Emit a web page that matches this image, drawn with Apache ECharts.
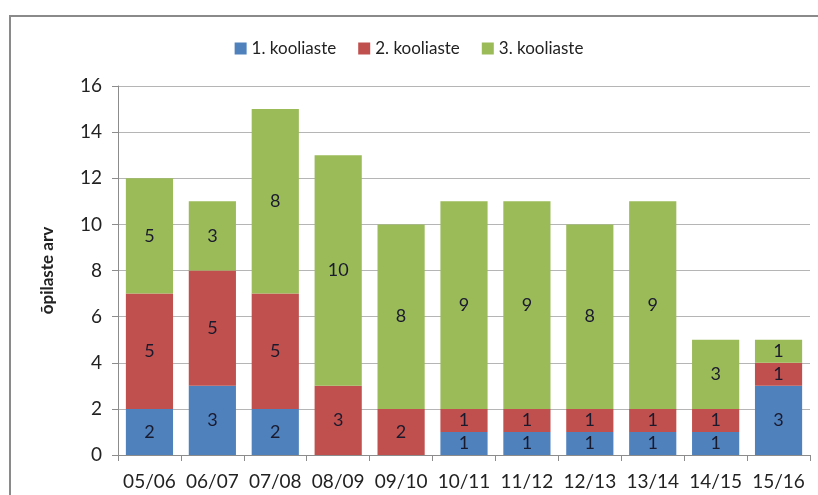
<!DOCTYPE html>
<html>
<head>
<meta charset="utf-8">
<script src="https://cdn.jsdelivr.net/npm/echarts@6/dist/echarts.min.js"></script>
<style>
  html, body { margin: 0; padding: 0; background: #fff; }
  #frame {
    position: absolute; left: 9px; top: 15px; width: 830px; height: 500px;
    border: 2px solid #8a8a8a; box-sizing: border-box;
  }
  #chart { position: absolute; left: 0; top: 0; width: 818px; height: 495px; }
</style>
</head>
<body>
<div id="frame"></div>
<div id="chart"></div>
<script>
// kategooriad ja andmed
var categories = ['05/06', '06/07', '07/08', '08/09', '09/10', '10/11', '11/12', '12/13', '13/14', '14/15', '15/16']
var kooliaste1 = [2, 3, 2, 0, 0, 1, 1, 1, 1, 1, 3]
var kooliaste2 = [5, 5, 5, 3, 2, 1, 1, 1, 1, 1, 1]
var kooliaste3 = [5, 3, 8, 10, 8, 9, 9, 8, 9, 3, 1]
var seriesNames = ['1. kooliaste', '2. kooliaste', '3. kooliaste']
var colors = ['#4F81BD', '#C0504D', '#9BBB59']

var font = 'Lato, "Open Sans", sans-serif'

function makeSeries (name, data, color) {
  return {
    name: name,
    type: 'bar',
    stack: 'total',
    data: data,
    barWidth: '75%',
    itemStyle: { color: color },
    label: {
      show: true,
      position: 'inside',
      color: '#1a1a2e',
      fontSize: 18,
      fontFamily: font,
      formatter: function (p) { return p.value === 0 ? '' : p.value }
    }
  }
}

var myChart = echarts.init(document.getElementById('chart'))
myChart.setOption({
  animation: false,
  textStyle: { fontFamily: font },
  legend: {
    top: 35,
    left: 'center',
    itemWidth: 12,
    itemHeight: 12,
    itemGap: 22,
    icon: 'rect',
    textStyle: { fontSize: 17, color: '#222', fontFamily: font },
    data: seriesNames
  },
  grid: { left: 118, right: 8, top: 86, bottom: 40 },
  xAxis: {
    type: 'category',
    data: categories,
    axisLine: { lineStyle: { color: '#8c8c8c', width: 1 } },
    axisTick: { show: true, length: 6, lineStyle: { color: '#8c8c8c' } },
    axisLabel: { interval: 0, hideOverlap: false, fontSize: 19, color: '#222', margin: 17, fontFamily: font }
  },
  yAxis: {
    type: 'value',
    min: 0,
    max: 16,
    interval: 2,
    name: 'õpilaste arv',
    nameLocation: 'middle',
    nameGap: 62,
    nameTextStyle: { fontSize: 17, fontWeight: 'bold', color: '#222', fontFamily: font },
    axisLine: { show: true, lineStyle: { color: '#8c8c8c' } },
    axisTick: { show: true, length: 6, lineStyle: { color: '#8c8c8c' } },
    axisLabel: { fontSize: 19, color: '#222', margin: 16, fontFamily: font },
    splitLine: { lineStyle: { color: '#b5b5b5' } }
  },
  series: [
    makeSeries(seriesNames[0], kooliaste1, colors[0]),
    makeSeries(seriesNames[1], kooliaste2, colors[1]),
    makeSeries(seriesNames[2], kooliaste3, colors[2])
  ]
})
</script>
</body>
</html>
